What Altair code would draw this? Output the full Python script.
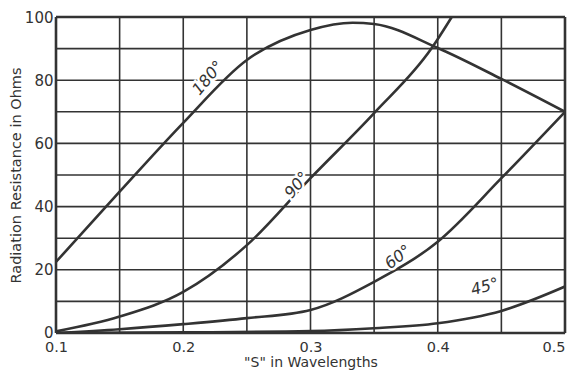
import altair as alt
import pandas as pd

# Curve data
s_180 = [0.10, 0.15, 0.20, 0.25, 0.30, 0.333, 0.35, 0.40, 0.45, 0.50]
r_180 = [22.5, 44.7, 66.5, 86.4, 95.9, 98.2, 97.8, 90.2, 80.4, 70.0]

s_90 = [0.10, 0.15, 0.20, 0.25, 0.30, 0.35, 0.395, 0.411]
r_90 = [0.5, 5.2, 13.0, 27.8, 49.0, 69.6, 90.0, 100.0]

s_60 = [0.10, 0.15, 0.20, 0.25, 0.30, 0.35, 0.40, 0.45, 0.50]
r_60 = [0.0, 1.2, 2.8, 4.7, 7.3, 16.2, 28.9, 49.0, 70.0]

s_45 = [0.10, 0.20, 0.30, 0.35, 0.40, 0.45, 0.50]
r_45 = [0.0, 0.2, 0.6, 1.5, 3.1, 7.0, 14.7]

label_text = ["180°", "90°", "60°", "45°"]
label_s = [0.2195, 0.2894, 0.3688, 0.437]
label_r = [80.7, 46.8, 24.0, 14.6]
label_angle = [310, 310, 322, 345]

x_grid = [0.10, 0.15, 0.20, 0.25, 0.30, 0.35, 0.40, 0.45, 0.50]
y_grid = [0, 10, 20, 30, 40, 50, 60, 70, 80, 90, 100]
x_frame = [0.10, 0.50]
y_frame = [0, 100]

rows = []
for name, xs, ys in [("180", s_180, r_180), ("90", s_90, r_90), ("60", s_60, r_60), ("45", s_45, r_45)]:
    for i, (a, b) in enumerate(zip(xs, ys)):
        rows.append({"curve": name, "s": a, "r": b, "order": i})
df = pd.DataFrame(rows)

labels = pd.DataFrame({"text": label_text, "s": label_s, "r": label_r, "angle": label_angle})

FONT = "DejaVu Sans"
INK = "#333333"

xscale = alt.Scale(domain=[0.1, 0.5], nice=False, zero=False)
yscale = alt.Scale(domain=[0, 100], nice=False)

xaxis = alt.Axis(
    values=x_grid, grid=False, ticks=False, domain=False, labelFlush=False,
    labelExpr="round(datum.value*100) % 10 == 0 ? format(datum.value, '.1f') : ''",
    labelAlign={"condition": {"test": "datum.value >= 0.49", "value": "right"}, "value": "center"},
    title='"S" in Wavelengths', labelFontSize=14.5, titleFontSize=14,
    labelColor=INK, titleColor=INK, labelFont=FONT, titleFont=FONT,
    titleFontWeight="normal", labelPadding=7, titlePadding=2,
)
yaxis = alt.Axis(
    values=y_grid, grid=False, ticks=False, domain=False, labelFlush=False,
    labelExpr="datum.value % 20 == 0 ? datum.label : ''",
    labelBaseline={"condition": {"test": "datum.value == 0", "value": "alphabetic"}, "value": "middle"},
    labelOffset={"condition": {"test": "datum.value == 0", "value": 4}, "value": 0},
    title="Radiation Resistance in Ohms", labelFontSize=15, titleFontSize=14.5,
    labelColor=INK, titleColor=INK, labelFont=FONT, titleFont=FONT,
    titleFontWeight="normal", labelPadding=3, titlePadding=1,
)

lines = alt.Chart(df).mark_line(
    color=INK, strokeWidth=2.6, interpolate="monotone", clip=True
).encode(
    x=alt.X("s:Q", scale=xscale, axis=xaxis),
    y=alt.Y("r:Q", scale=yscale, axis=yaxis),
    detail="curve:N",
    order="order:Q",
)

vgrid = alt.Chart(pd.DataFrame({"s": x_grid})).mark_rule(
    color=INK, strokeWidth=1.6
).encode(x=alt.X("s:Q", scale=xscale))
hgrid = alt.Chart(pd.DataFrame({"r": y_grid})).mark_rule(
    color=INK, strokeWidth=1.6
).encode(y=alt.Y("r:Q", scale=yscale))
vframe = alt.Chart(pd.DataFrame({"s": x_frame})).mark_rule(
    color=INK, strokeWidth=2.6
).encode(x=alt.X("s:Q", scale=xscale))
hframe = alt.Chart(pd.DataFrame({"r": y_frame})).mark_rule(
    color=INK, strokeWidth=2.6
).encode(y=alt.Y("r:Q", scale=yscale))

halo = alt.Chart(labels).mark_text(
    font=FONT, fontSize=16, color="white", stroke="white", strokeWidth=5,
    fontStyle="italic",
).encode(
    x=alt.X("s:Q", scale=xscale),
    y=alt.Y("r:Q", scale=yscale),
    text="text:N",
    angle=alt.Angle("angle:Q", scale=None),
)

txt = alt.Chart(labels).mark_text(
    font=FONT, fontSize=16, color=INK, fontStyle="italic",
).encode(
    x=alt.X("s:Q", scale=xscale),
    y=alt.Y("r:Q", scale=yscale),
    text="text:N",
    angle=alt.Angle("angle:Q", scale=None),
)

chart = alt.layer(lines, vgrid, hgrid, vframe, hframe, halo, txt).properties(
    width=509, height=316,
    autosize=alt.AutoSizeParams(type="none"),
    padding={"left": 48, "top": 9, "right": 2, "bottom": 38},
).configure_view(
    strokeWidth=0
).configure(background="white")

chart.save("out.html", embed_options={"renderer": "svg", "actions": False})
